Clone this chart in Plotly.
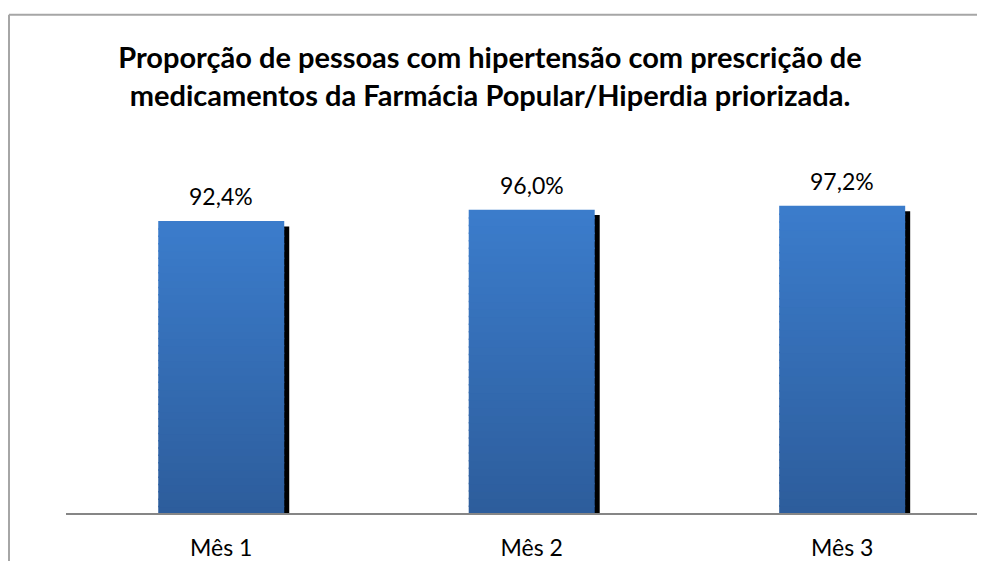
import plotly.graph_objects as go

categories = ["Mês 1", "Mês 2", "Mês 3"]
values = [92.4, 96.0, 97.2]
value_labels = ["92,4%", "96,0%", "97,2%"]
title_text = "<b>Proporção de pessoas com hipertensão com prescrição de<br>medicamentos da Farmácia Popular/Hiperdia priorizada.</b>"

# page has an 8px body margin, so the figure is drawn 8px smaller and offset
OFF = 8
W, H = 985 - OFF, 561 - OFF
L, R, T, B = 66 - OFF, 0, 197 - OFF, 45
YMAX = 100.0
XMIN, XMAX = -0.5, 2.46
px_per_cat = (W - L - R) / (XMAX - XMIN)
px_per_unit = (H - T - B) / YMAX

bar_w = 126 / px_per_cat
blue_off = -bar_w / 2
shadow_dx = 5 / px_per_cat
shadow_top_drop = 5.5 / px_per_unit
shadow_bottom = -3 / px_per_unit
overlap = 1.5 / px_per_unit

top_rgb = (0x3B, 0x7C, 0xCB)
bot_rgb = (0x2D, 0x5D, 0x9C)
N = 40

fig = go.Figure()
# shadow
fig.add_trace(go.Bar(
    x=list(range(len(categories))),
    y=[v - shadow_top_drop - shadow_bottom for v in values],
    base=[shadow_bottom] * len(values),
    width=bar_w, offset=blue_off + shadow_dx,
    marker=dict(color="black", line=dict(width=0)),
    hoverinfo="skip", showlegend=False, cliponaxis=False,
))
# gradient blue bars (each value drawn as stacked slices, bottom to top)
for i in range(N):
    t = i / (N - 1)
    c = tuple(round(bot_rgb[k] + (top_rgb[k] - bot_rgb[k]) * t) for k in range(3))
    ext = overlap if i > 0 else 0.0
    fig.add_trace(go.Bar(
        x=list(range(len(categories))),
        y=[v / N + ext for v in values],
        base=[v * i / N - ext for v in values],
        width=bar_w, offset=blue_off,
        marker=dict(color="rgb(%d,%d,%d)" % c, line=dict(width=0)),
        hoverinfo="skip", showlegend=False, cliponaxis=False,
    ))

for i, (v, lab) in enumerate(zip(values, value_labels)):
    fig.add_annotation(x=i, y=v, text=lab, showarrow=False, yanchor="bottom",
                       yshift=9, font=dict(family="Lato", size=23, color="#000000"))

fig.update_layout(
    width=W, height=H,
    margin=dict(l=L, r=R, t=T, b=B),
    paper_bgcolor="white", plot_bgcolor="white",
    barmode="overlay",
    title=dict(text=title_text, x=(490 - OFF) / W, xref="container", xanchor="center",
               y=1 - (68 - OFF) / H, yref="container", yanchor="middle",
               font=dict(family="Lato", size=29, color="#000000")),
    xaxis=dict(range=[XMIN, XMAX], tickmode="array",
               tickvals=list(range(len(categories))), ticktext=categories,
               showline=True, linecolor="#868686", linewidth=1.5,
               showgrid=False, zeroline=False, ticks="",
               tickfont=dict(family="Lato", size=23, color="#000000"),
               ticklabelstandoff=14),
    yaxis=dict(range=[0, YMAX], visible=False, showgrid=False, zeroline=False),
    showlegend=False,
)

# outer chart border (top and left visible)
bx = (9 - 66) / (W - L - R)
by = (516 - 13) / (H - T - B)
fig.add_shape(type="line", xref="paper", yref="paper", x0=bx, x1=bx, y0=-1, y1=by,
              line=dict(color="#A6A6A6", width=2))
fig.add_shape(type="line", xref="paper", yref="paper", x0=bx, x1=1.2, y0=by, y1=by,
              line=dict(color="#A6A6A6", width=2))

fig.write_html("out.html")
